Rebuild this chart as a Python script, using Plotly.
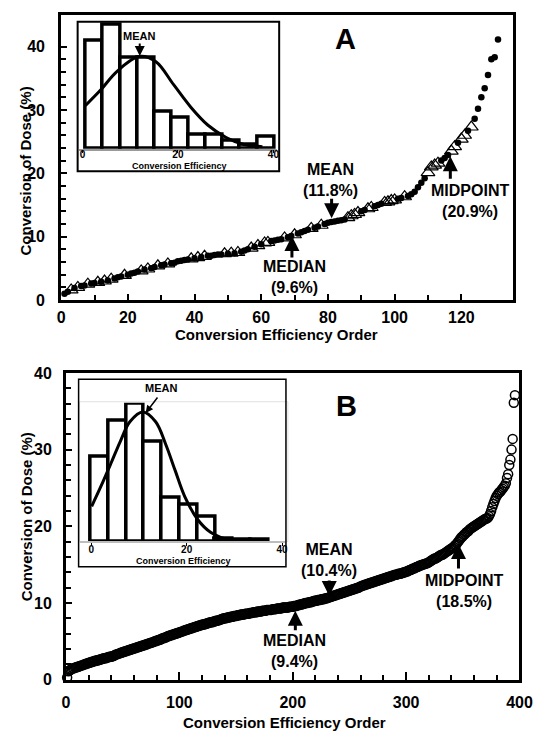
import plotly.graph_objects as go

W, H = 547, 740
FONT = "Liberation Sans, Arial, Helvetica, sans-serif"

# ---------------- Panel A data (conversion of dose %, sorted) ----------------
a_values = [
    1.0, 1.3, 1.6, 1.9, 2.0, 2.2, 2.3, 2.5, 2.6, 2.7,
    2.8, 2.9, 3.0, 3.1, 3.3, 3.4, 3.6, 3.7, 3.9, 4.0,
    4.2, 4.3, 4.5, 4.6, 4.8, 4.9, 5.0, 5.2, 5.4, 5.5,
    5.6, 5.7, 5.8, 5.9, 6.1, 6.2, 6.3, 6.4, 6.5, 6.6,
    6.7, 6.8, 6.9, 7.0, 7.0, 7.1, 7.2, 7.2, 7.3, 7.3,
    7.4, 7.4, 7.5, 7.6, 7.8, 8.0, 8.2, 8.4, 8.6, 8.8,
    9.0, 9.1, 9.3, 9.4, 9.5, 9.6, 9.8, 9.9, 10.1, 10.3,
    10.5, 10.7, 10.9, 11.1, 11.3, 11.4, 11.6, 11.8, 12.0, 12.2,
    12.3, 12.4, 12.5, 12.6, 12.7, 13.0, 13.3, 13.5, 13.8, 14.0,
    14.2, 14.4, 14.6, 14.8, 15.0, 15.2, 15.4, 15.5, 15.7, 15.8,
    16.0, 16.1, 16.3, 16.4, 16.7, 17.1, 17.8, 18.5, 19.2, 20.1,
    21.0, 21.3, 21.6, 22.0, 22.4, 22.9, 23.5, 24.2, 24.8, 25.4,
    26.0, 26.7, 27.3, 28.6, 30.2, 32.0, 33.4, 35.5, 38.0, 38.3, 41.1,
]
a_triangle_orders = [3, 5, 8, 11, 13, 15, 19, 24, 26, 29, 32, 39, 41, 43, 49, 51, 53,
                     57, 59, 61, 62, 67, 70, 75, 78, 86, 87, 88, 89, 92, 93, 97, 98,
                     99, 100, 103, 110, 111, 112, 113, 117, 118, 120, 121, 123]

# ---------------- Panel B data ----------------
b_values = [
    0.3, 1.1, 1.2, 1.3, 1.4, 1.5, 1.5, 1.6, 1.6, 1.7, 1.7, 1.8, 1.8, 1.9, 1.9, 2.0, 2.0, 2.1, 2.1, 2.2,
    2.2, 2.3, 2.3, 2.4, 2.4, 2.5, 2.5, 2.5, 2.6, 2.6, 2.7, 2.7, 2.8, 2.8, 2.8, 2.9, 2.9, 3.0, 3.0, 3.0,
    3.1, 3.1, 3.2, 3.3, 3.3, 3.4, 3.4, 3.5, 3.5, 3.6, 3.6, 3.7, 3.7, 3.8, 3.8, 3.9, 3.9, 4.0, 4.0, 4.1,
    4.1, 4.2, 4.2, 4.3, 4.3, 4.4, 4.4, 4.5, 4.5, 4.6, 4.6, 4.7, 4.7, 4.8, 4.8, 4.9, 4.9, 5.0, 5.0, 5.1,
    5.1, 5.2, 5.2, 5.3, 5.4, 5.4, 5.5, 5.5, 5.6, 5.7, 5.7, 5.8, 5.8, 5.9, 5.9, 6.0, 6.0, 6.1, 6.1, 6.2,
    6.2, 6.3, 6.3, 6.4, 6.4, 6.5, 6.5, 6.6, 6.6, 6.7, 6.7, 6.8, 6.8, 6.9, 6.9, 7.0, 7.0, 7.1, 7.1, 7.2,
    7.2, 7.2, 7.3, 7.3, 7.4, 7.4, 7.5, 7.5, 7.5, 7.6, 7.6, 7.7, 7.7, 7.7, 7.8, 7.8, 7.9, 7.9, 8.0, 8.0,
    8.0, 8.1, 8.1, 8.1, 8.2, 8.2, 8.2, 8.3, 8.3, 8.3, 8.4, 8.4, 8.4, 8.5, 8.5, 8.5, 8.5, 8.6, 8.6, 8.6,
    8.6, 8.7, 8.7, 8.7, 8.8, 8.8, 8.8, 8.8, 8.9, 8.9, 8.9, 8.9, 9.0, 9.0, 9.0, 9.0, 9.1, 9.1, 9.1, 9.1,
    9.1, 9.2, 9.2, 9.2, 9.2, 9.3, 9.3, 9.3, 9.3, 9.3, 9.4, 9.4, 9.4, 9.4, 9.4, 9.4, 9.5, 9.5, 9.5, 9.5,
    9.6, 9.6, 9.6, 9.7, 9.7, 9.8, 9.8, 9.8, 9.9, 9.9, 10.0, 10.0, 10.0, 10.1, 10.1, 10.1, 10.2, 10.2, 10.3, 10.3,
    10.3, 10.4, 10.4, 10.4, 10.5, 10.5, 10.5, 10.6, 10.6, 10.6, 10.7, 10.7, 10.8, 10.8, 10.9, 10.9, 11.0, 11.0, 11.1, 11.1,
    11.2, 11.2, 11.3, 11.3, 11.4, 11.4, 11.5, 11.5, 11.6, 11.6, 11.7, 11.7, 11.8, 11.8, 11.9, 11.9, 12.0, 12.0, 12.1, 12.2,
    12.2, 12.3, 12.3, 12.4, 12.4, 12.5, 12.5, 12.6, 12.6, 12.7, 12.7, 12.8, 12.8, 12.9, 12.9, 13.0, 13.0, 13.1, 13.1, 13.2,
    13.2, 13.3, 13.3, 13.4, 13.4, 13.5, 13.5, 13.6, 13.6, 13.7, 13.7, 13.7, 13.8, 13.8, 13.8, 13.9, 13.9, 14.0, 14.0, 14.1,
    14.1, 14.2, 14.3, 14.3, 14.4, 14.5, 14.5, 14.6, 14.7, 14.7, 14.8, 14.9, 14.9, 15.0, 15.0, 15.1, 15.1, 15.2, 15.2, 15.3,
    15.4, 15.5, 15.6, 15.7, 15.8, 15.8, 15.9, 16.0, 16.1, 16.2, 16.3, 16.3, 16.4, 16.5, 16.6, 16.7, 16.8, 16.9, 17.0, 17.1,
    17.2, 17.3, 17.5, 17.6, 17.8, 18.0, 18.2, 18.4, 18.6, 18.7, 18.9, 19.0, 19.2, 19.3, 19.4, 19.6, 19.7, 19.8, 19.9, 20.0,
    20.1, 20.2, 20.3, 20.4, 20.5, 20.6, 20.7, 20.8, 20.9, 21.0, 21.0, 21.1, 21.3, 21.6, 22.0, 22.5, 22.9, 23.3, 23.7, 24.0,
    24.2, 24.4, 24.5, 24.7, 24.9, 25.1, 25.3, 25.6, 26.3, 26.8, 28.0, 28.7, 30.0, 31.4, 36.1, 37.1,
]

# ---------------- Inset histograms (conversion efficiency distribution) ----------------
hist_a_centers = [2.5, 6.1, 9.7, 13.3, 16.9, 20.4, 24.0, 27.6, 31.2, 34.8, 38.4]
hist_a_heights = [22.2, 25.4, 18.6, 18.6, 7.6, 6.3, 2.9, 2.9, 1.6, 0.9, 2.5]
hist_a_width = 3.59
curve_a_x = [0.6, 3.9, 7.2, 12.0, 15.4, 19.1, 22.7, 26.3, 30.1, 33.6, 37.7]
curve_a_y = [8.8, 12.1, 15.8, 18.9, 17.8, 13.1, 8.5, 4.8, 2.3, 0.9, 0.4]

hist_b_centers = [1.76, 5.48, 9.2, 12.9, 16.6, 20.4, 24.1, 27.8, 31.5, 35.2]
hist_b_heights = [17.3, 24.7, 28.2, 20.5, 8.9, 7.5, 5.1, 0.5, 0.3, 0.3]
hist_b_width = 3.72
curve_b_x = [0.1, 2.0, 4.1, 6.1, 8.1, 10.8, 13.5, 15.6, 17.6, 19.6, 22.3, 25.0, 29.1, 36.5]
curve_b_y = [7.2, 11.2, 15.9, 20.5, 24.5, 26.5, 24.5, 19.9, 14.5, 9.2, 4.5, 1.9, 0.3, 0.1]

inset_ticks = [0, 20, 40]
a_xticks = [0, 20, 40, 60, 80, 100, 120]
b_xticks = [0, 100, 200, 300, 400]
y_ticks_a = [0, 10, 20, 30, 40]
y_ticks_b = [0, 10, 20, 30, 40]

# ---------------- helpers ----------------
def px_x(p):
    return p / W

def px_y(p):
    return 1 - p / H

def bold(size):
    return dict(family=FONT, size=size, color="black", weight="bold")

fig = go.Figure()

a_orders = list(range(1, len(a_values) + 1))
tri_set = set(a_triangle_orders)
a_circ_x = [o for o in a_orders if o not in tri_set]
a_circ_y = [a_values[o - 1] for o in a_circ_x]
a_tri_x = [o for o in a_orders if o in tri_set]
a_tri_y = [a_values[o - 1] for o in a_tri_x]

fig.add_trace(go.Scatter(x=a_circ_x, y=a_circ_y, mode="markers", xaxis="x", yaxis="y",
                         marker=dict(symbol="circle", size=6.5, color="black"),
                         cliponaxis=False, hoverinfo="skip"))
fig.add_trace(go.Scatter(x=a_tri_x, y=a_tri_y, mode="markers", xaxis="x", yaxis="y",
                         marker=dict(symbol="triangle-up-open", size=12, color="black",
                                     line=dict(width=1.2, color="black")),
                         cliponaxis=False, hoverinfo="skip"))

b_orders = list(range(1, len(b_values) + 1))
fig.add_trace(go.Scatter(x=b_orders, y=b_values, mode="markers", xaxis="x2", yaxis="y2",
                         marker=dict(symbol="circle-open", size=9, color="black",
                                     line=dict(width=1.5, color="black")),
                         cliponaxis=False, hoverinfo="skip"))

fig.add_trace(go.Bar(x=hist_a_centers, y=hist_a_heights, width=hist_a_width,
                     xaxis="x3", yaxis="y3",
                     marker=dict(color="white", line=dict(color="black", width=3.5))))
fig.add_trace(go.Scatter(x=curve_a_x, y=curve_a_y, mode="lines", xaxis="x3", yaxis="y3",
                         line=dict(color="black", width=3, shape="spline", smoothing=1),
                         hoverinfo="skip"))
fig.add_trace(go.Bar(x=hist_b_centers, y=hist_b_heights, width=hist_b_width,
                     xaxis="x4", yaxis="y4",
                     marker=dict(color="white", line=dict(color="black", width=3.5))))
fig.add_trace(go.Scatter(x=curve_b_x, y=curve_b_y, mode="lines", xaxis="x4", yaxis="y4",
                         line=dict(color="black", width=3, shape="spline", smoothing=1),
                         hoverinfo="skip"))

main_axis = dict(showline=True, linewidth=3, linecolor="black", mirror=True,
                 ticks="inside", tickwidth=2, tickcolor="black", ticklen=6,
                 showgrid=False, zeroline=False, tickfont=bold(16))

fig.update_layout(
    width=W, height=H, margin=dict(l=0, r=0, t=0, b=0),
    paper_bgcolor="white", plot_bgcolor="rgba(0,0,0,0)", showlegend=False,
    bargap=0,
    xaxis=dict(main_axis, domain=[px_x(59), px_x(525)], range=[0, 135.4], anchor="y",
               tickvals=a_xticks, ticklabelstandoff=1,
               minor=dict(tickvals=[10, 30, 50, 70, 90, 110], ticks="inside", ticklen=5,
                          tickwidth=2, tickcolor="black")),
    yaxis=dict(main_axis, domain=[px_y(298.9), px_y(7)], range=[0, 45.0], anchor="x",
               tickvals=y_ticks_a, ticklabelstandoff=10,
               minor=dict(tickvals=[v for v in range(2, 40, 2) if v % 10],
                          ticks="inside", ticklen=5, tickwidth=2, tickcolor="black")),
    xaxis2=dict(main_axis, domain=[px_x(64), px_x(532)], range=[0, 400], anchor="y2",
                tickvals=b_xticks, ticklen=8, ticklabelstandoff=6,
                minor=dict(dtick=20, ticks="inside", ticklen=5, tickwidth=2, tickcolor="black")),
    yaxis2=dict(main_axis, domain=[px_y(687.5), px_y(373.5)], range=[0, 40], anchor="x2",
                tickvals=y_ticks_b, ticklabelstandoff=8,
                minor=dict(dtick=2, ticks="inside", ticklen=5, tickwidth=2, tickcolor="black")),
    xaxis3=dict(domain=[px_x(77), px_x(282)], range=[-0.8, 40.8], anchor="y3",
                showline=True, linecolor="#9a9a9a", linewidth=1.5, ticks="outside",
                ticklen=3, tickwidth=1, tickcolor="black", tickvals=inset_ticks,
                tickfont=bold(10), showgrid=False, zeroline=False, ticklabelstandoff=-7),
    yaxis3=dict(domain=[px_y(144), px_y(14)], range=[0, 26], anchor="x3", visible=False),
    xaxis4=dict(domain=[px_x(78), px_x(290)], range=[-2.44, 40.6], anchor="y4",
                showline=True, linecolor="#bdbdbd", linewidth=1.5, ticks="outside",
                ticklen=3, tickwidth=1, tickcolor="black", tickvals=inset_ticks,
                tickfont=bold(10), showgrid=False, zeroline=False, ticklabelstandoff=-5),
    yaxis4=dict(domain=[px_y(546), px_y(404)], range=[0, 28.4], anchor="x4", visible=False),
)

shapes = [
    dict(type="rect", xref="paper", yref="paper", x0=px_x(76), x1=px_x(284),
         y0=px_y(167), y1=px_y(14), line=dict(color="black", width=2), layer="above"),
    dict(type="rect", xref="paper", yref="paper", x0=px_x(77), x1=px_x(291),
         y0=px_y(572), y1=px_y(380), line=dict(color="black", width=1.5), layer="above"),
    dict(type="rect", xref="paper", yref="paper", x0=px_x(78), x1=px_x(293),
         y0=px_y(546), y1=px_y(403), line=dict(color="#e0e0e0", width=1), layer="below"),
]
fig.update_layout(shapes=shapes)

ann = []

def text(x, y, s, size, xref="paper", yref="paper", angle=0):
    ann.append(dict(x=x, y=y, xref=xref, yref=yref, text=s, showarrow=False,
                    font=bold(size), xanchor="center", yanchor="middle", textangle=angle))

def arrow(x, y, ax, ay, xref, yref, width=3, size=1.0):
    ann.append(dict(x=x, y=y, xref=xref, yref=yref, ax=ax, ay=ay, text="",
                    showarrow=True, arrowhead=2, arrowsize=size, arrowwidth=width,
                    arrowcolor="black", standoff=0))

# axis titles
text(px_x(22), px_y(167), "Conversion of Dose (%)", 15, angle=-90)
text(px_x(281), px_y(334), "Conversion Efficiency Order", 15)
text(px_x(23), px_y(521), "Conversion of Dose (%)", 15, angle=-90)
text(px_x(289.5), px_y(731), "Conversion Efficiency Order", 15)

# panel letters
text(85.3, 41.2, "A", 29, "x", "y")
text(247.0, 35.67, "B", 29, "x2", "y2")

# Panel A labels (two-line blocks)
text(80.8, 18.9, "MEAN<br>(11.8%)", 16, "x", "y")
arrow(81.1, 12.9, 0, -21, "x", "y")
text(70.0, 3.69, "MEDIAN<br>(9.6%)", 16, "x", "y")
arrow(69.2, 10.1, 0, 23, "x", "y")
text(122.65, 15.55, "MIDPOINT<br>(20.9%)", 16, "x", "y")
arrow(116.7, 22.7, 0, 24, "x", "y")

# Panel B labels
text(232.1, 15.67, "MEAN<br>(10.4%)", 16, "x2", "y2")
arrow(232.2, 10.9, 0, -17, "x2", "y2")
text(201.7, 3.79, "MEDIAN<br>(9.4%)", 16, "x2", "y2")
arrow(202.3, 9.0, 0, 21, "x2", "y2")
text(350.85, 11.63, "MIDPOINT<br>(18.5%)", 16, "x2", "y2")
arrow(346.2, 17.7, 0, 26, "x2", "y2")

# Inset labels
text(px_x(139), px_y(29), "MEAN", 11)
arrow(12.0, 19.0, 0, -14, "x3", "y3", width=2, size=1.0)
text(px_x(180.8), px_y(162), "Conversion Efficiency", 9)
text(px_x(162.5), px_y(389), "MEAN", 11)
arrow(11.4, 26.3, 13, -17, "x4", "y4", width=1.5, size=1.0)
text(px_x(184.8), px_y(565.5), "Conversion Efficiency", 9)

fig.update_layout(annotations=ann)

fig.write_html(
    "out.html",
    config={"displayModeBar": False},
    post_script="document.body.style.margin='0';document.body.style.padding='0';"
                "document.documentElement.style.overflow='hidden';",
)
